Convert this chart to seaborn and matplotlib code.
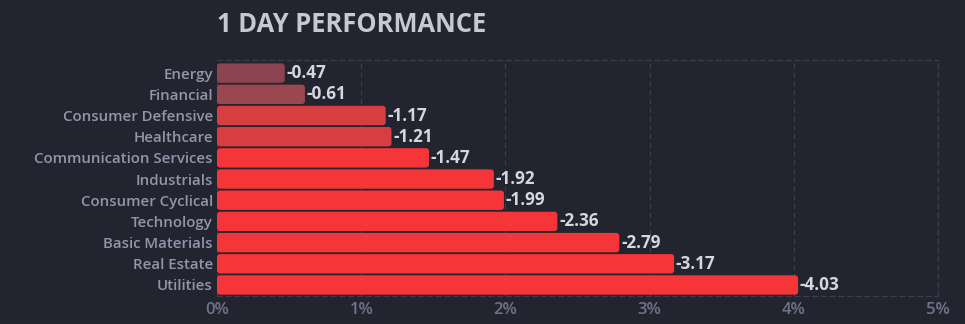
import matplotlib
matplotlib.use("Agg")
import matplotlib.pyplot as plt
from matplotlib.patches import FancyBboxPatch
import seaborn as sns
import pandas as pd

sectors = ["Energy", "Financial", "Consumer Defensive", "Healthcare",
           "Communication Services", "Industrials", "Consumer Cyclical",
           "Technology", "Basic Materials", "Real Estate", "Utilities"]
changes = [-0.47, -0.61, -1.17, -1.21, -1.47, -1.92, -1.99, -2.36, -2.79, -3.17, -4.03]
xticks = [0, 1, 2, 3, 4, 5]
xtick_labels = ["0%", "1%", "2%", "3%", "4%", "5%"]

BG = "#22252f"
GRID = "#3a3e4b"


def bar_color(v):
    if v > -0.55:
        return "#8b4450"
    if v > -1.0:
        return "#9a4750"
    if v > -1.3:
        return "#d73d41"
    return "#f63538"


df = pd.DataFrame({"sector": sectors, "change": changes})
df["size"] = df["change"].abs()

sns.set_theme(style="dark")
plt.rcParams["font.family"] = ["Open Sans", "DejaVu Sans"]

fig = plt.figure(figsize=(9.65, 3.24), dpi=100, facecolor=BG)
ax = fig.add_axes([217 / 965, 1 - 296 / 324, (938 - 217) / 965, (296 - 60) / 324])
ax.set_facecolor(BG)

sns.barplot(data=df, x="size", y="sector", hue="sector",
            palette=[bar_color(v) for v in changes], legend=False,
            saturation=1, width=0.915, ax=ax, zorder=3)

ylo, yhi = -0.62, 10.52
ax.set_xlim(0, 5)
ax.set_ylim(yhi, ylo)

# swap plain rectangles for rounded ones
xpx = (938 - 217) / 5.0
ypx = (296 - 60) / (yhi - ylo)
aspect = xpx / ypx
for p in list(ax.patches):
    x, y = p.get_x(), p.get_y()
    w, h = p.get_width(), p.get_height()
    fc = p.get_facecolor()
    p.remove()
    r = 3.0 / xpx
    box = FancyBboxPatch((x, y), w, h,
                         boxstyle=f"round,pad=0,rounding_size={r}",
                         mutation_aspect=aspect, facecolor=fc,
                         edgecolor="none", zorder=3)
    ax.add_patch(box)

for i, v in enumerate(changes):
    ax.text(abs(v) + 0.012, i, f"{v:.2f}", va="center", ha="left",
            color="#d5d7e0", fontsize=12.3, fontweight="bold", zorder=4)

ax.set_xticks(xticks)
ax.set_xticklabels(xtick_labels)
ax.set_xlabel("")
ax.set_ylabel("")
ax.tick_params(axis="x", colors="#70748a", labelsize=12, length=0, pad=4)
ax.tick_params(axis="y", colors="#9296ab", labelsize=10.8, length=0, pad=3)
for lab in ax.get_yticklabels() + ax.get_xticklabels():
    lab.set_fontweight("semibold")

ax.grid(axis="x", color=GRID, linestyle=(0, (4, 3)), linewidth=0.9, zorder=0)
ax.grid(axis="y", visible=False)
for side in ["top", "right", "bottom"]:
    ax.spines[side].set_visible(True)
    ax.spines[side].set_color(GRID)
    ax.spines[side].set_linestyle((0, (4, 3)))
    ax.spines[side].set_linewidth(0.9)
ax.spines["left"].set_visible(False)

fig.text(217 / 965, 1 - 25 / 324, "1 DAY PERFORMANCE", color="#c6c8d3",
         fontsize=18.4, fontweight="bold", va="center", ha="left")

fig.savefig("out.png", dpi=100, facecolor=BG)
